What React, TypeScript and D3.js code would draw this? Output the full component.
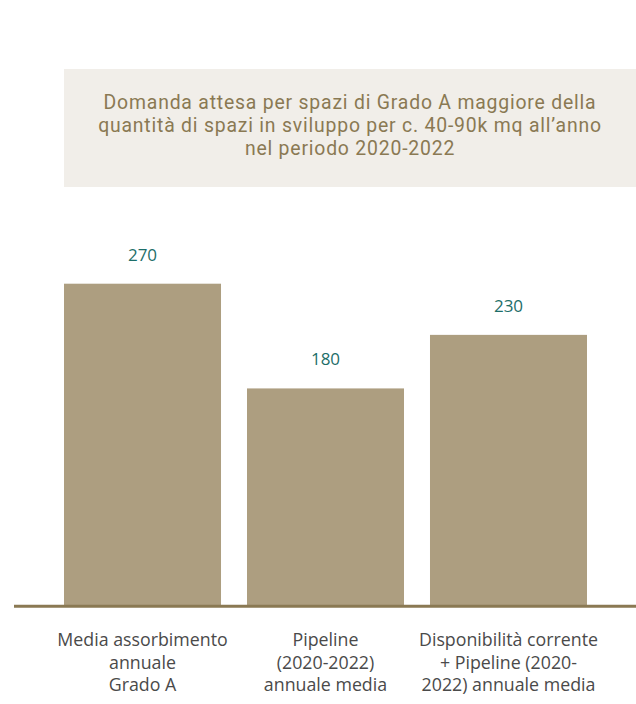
import React from "react";
import * as d3 from "d3";

const categories: string[][] = [
  ["Media assorbimento", "annuale", "Grado A"],
  ["Pipeline", "(2020-2022)", "annuale media"],
  ["Disponibilità corrente", "+ Pipeline (2020-", "2022) annuale media"],
];
const values: number[] = [270, 182, 227];
const valueLabels: string[] = ["270", "180", "230"];
const titleLines: string[] = [
  "Domanda attesa per spazi di Grado A maggiore della",
  "quantità di spazi in sviluppo per c. 40-90k mq all’anno",
  "nel periodo 2020-2022",
];

const W = 636;
const H = 704;
const FONT = "'Open Sans', 'Noto Sans', sans-serif";
const TITLE_FONT = "Roboto, 'Open Sans', sans-serif";

export default function App() {
  const keys = categories.map((_, i) => String(i));
  const x = d3.scaleBand<string>().domain(keys).range([64, 587]).paddingInner(0.142).paddingOuter(0);
  const y = d3.scaleLinear().domain([0, 300]).range([605, 605 - 357]);

  return (
    <div style={{ position: "absolute", left: 0, top: 0 }}>
      <svg width={W} height={H} style={{ display: "block" }}>
        <rect x={0} y={0} width={W} height={H} fill="#ffffff" />
        <rect x={64} y={69} width={W - 64} height={118} fill="#f1eee9" />
        {titleLines.map((t, i) => (
          <text
            key={i}
            x={350}
            y={109 + i * 23}
            textAnchor="middle"
            fontFamily={TITLE_FONT}
            fontSize={19.4}
            letterSpacing={0.8}
            fill="#8a7953"
          >
            {t}
          </text>
        ))}
        {values.map((v, i) => {
          const bx = x(String(i))!;
          const bw = x.bandwidth();
          return (
            <g key={i}>
              <rect x={bx} y={y(v)} width={bw} height={y(0) - y(v)} fill="#ad9e80" />
              <text
                x={bx + bw / 2}
                y={y(v) - 23}
                textAnchor="middle"
                fontFamily={FONT}
                fontSize={17}
                fill="#1d6e69"
              >
                {valueLabels[i]}
              </text>
              {categories[i].map((line, j) => (
                <text
                  key={j}
                  x={bx + bw / 2}
                  y={646 + j * 22.5}
                  textAnchor="middle"
                  fontFamily={FONT}
                  fontSize={17.8}
                  fill="#4a4a4a"
                >
                  {line}
                </text>
              ))}
            </g>
          );
        })}
        <line x1={14} x2={W} y1={606.2} y2={606.2} stroke="#8a7953" strokeWidth={3} />
      </svg>
    </div>
  );
}
